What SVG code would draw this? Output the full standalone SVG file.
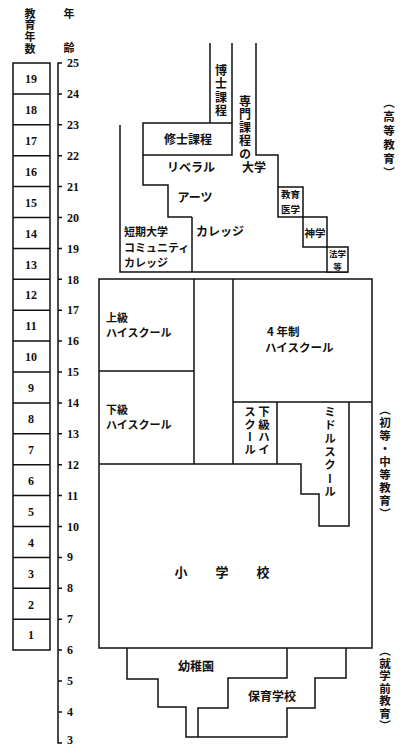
<svg xmlns="http://www.w3.org/2000/svg" width="404" height="747" viewBox="0 0 404 747">
<style>
.ln{fill:none;stroke:#111;stroke-width:1.5}
.bx{fill:#fff;stroke:#111;stroke-width:1.5}
.jp{font-family:"Noto Sans CJK JP","Noto Sans CJK SC",sans-serif;font-weight:bold;fill:#111}
.num{font-family:"Liberation Serif",serif;font-weight:bold;font-size:12px;fill:#111}
.v{writing-mode:vertical-rl}
</style>
<rect width="404" height="747" fill="#fff"/>
<g id="headers">
<text class="jp v" x="30" y="8" font-size="11" letter-spacing="0.8">教育年数</text>
<text class="jp" x="69" y="18" font-size="11" text-anchor="middle">年</text>
<text class="jp" x="69" y="52" font-size="11" text-anchor="middle">齢</text>
</g>
<g id="education-years">
<rect class="bx" x="13" y="63" width="37" height="587"/>
<path class="ln" d="M13,93.9H50M13,124.8H50M13,155.7H50M13,186.6H50M13,217.5H50M13,248.4H50M13,279.3H50M13,310.2H50M13,341.1H50M13,372H50M13,402.9H50M13,433.8H50M13,464.7H50M13,495.6H50M13,526.5H50M13,557.4H50M13,588.3H50M13,619.2H50"/>
<g class="num" text-anchor="middle">
<text x="31" y="83">19</text><text x="31" y="114">18</text><text x="31" y="145">17</text><text x="31" y="176">16</text><text x="31" y="207">15</text><text x="31" y="238">14</text><text x="31" y="269">13</text><text x="31" y="299">12</text><text x="31" y="330">11</text><text x="31" y="361">10</text><text x="31" y="392">9</text><text x="31" y="423">8</text><text x="31" y="454">7</text><text x="31" y="485">6</text><text x="31" y="516">5</text><text x="31" y="547">4</text><text x="31" y="578">3</text><text x="31" y="609">2</text><text x="31" y="639">1</text>
</g>
</g>
<g id="age-axis">
<path class="ln" d="M62,63H58V743H62M58,93.9H62M58,124.8H62M58,155.7H62M58,186.6H62M58,217.5H62M58,248.4H62M58,279.3H62M58,310.2H62M58,341.1H62M58,372H62M58,402.9H62M58,433.8H62M58,464.7H62M58,495.6H62M58,526.5H62M58,557.4H62M58,588.3H62M58,619.2H62M58,650.1H62M58,681H62M58,711.9H62"/>
<g class="num">
<text x="67" y="67">25</text><text x="67" y="98">24</text><text x="67" y="129">23</text><text x="67" y="160">22</text><text x="67" y="191">21</text><text x="67" y="222">20</text><text x="67" y="253">19</text><text x="67" y="284">18</text><text x="67" y="314">17</text><text x="67" y="345">16</text><text x="67" y="376">15</text><text x="67" y="407">14</text><text x="67" y="438">13</text><text x="67" y="469">12</text><text x="67" y="500">11</text><text x="67" y="531">10</text><text x="67" y="561">9</text><text x="67" y="592">8</text><text x="67" y="623">7</text><text x="67" y="654">6</text><text x="67" y="685">5</text><text x="67" y="716">4</text><text x="67" y="744">3</text>
</g>
</g>
<g id="connectors">
<path class="ln" d="M120,125V272H348M192,217V272M143,155V185H168V217H192M210,43V123M232,43V123M256,43V155H278V187"/>
<path class="ln" d="M99,279H372V648H99ZM194,279V464M233,279V464M99,371H194M233,402H372M277,402V464M99,464H301V494H319V526H349V402"/>
<path class="ln" d="M127,648V679H158V707H186V737H287V708H315V678H346V648M287,648V678H228V708H198V737"/>
</g>
<g id="doctor"><text class="jp v" x="221" y="64" font-size="12" letter-spacing="1.5">博士課程</text></g>
<g id="master"><rect class="bx" x="143" y="123" width="89" height="32"/><text class="jp" x="188" y="144" font-size="12" text-anchor="middle">修士課程</text></g>
<g id="professional"><text class="jp v" x="245" y="95" font-size="12" letter-spacing="1.3">専門課程の</text><text class="jp" x="254" y="172" font-size="12" text-anchor="middle">大学</text></g>
<g id="liberal-arts">
<text class="jp" x="191" y="172" font-size="12" text-anchor="middle">リベラル</text>
<text class="jp" x="195" y="202" font-size="12" text-anchor="middle">アーツ</text>
<text class="jp" x="220" y="236" font-size="12" text-anchor="middle">カレッジ</text>
</g>
<g id="junior-college">
<text class="jp" font-size="11"><tspan x="124" y="236">短期大学</tspan><tspan x="124" y="251.5">コミュニティ</tspan><tspan x="124" y="267">カレッジ</tspan></text>
</g>
<g id="education-medicine"><rect class="bx" x="278" y="187" width="25" height="30"/><text class="jp" font-size="9.5" text-anchor="middle"><tspan x="290.5" y="198">教育</tspan><tspan x="290.5" y="212.5">医学</tspan></text></g>
<g id="theology"><rect class="bx" x="303" y="217" width="24" height="30"/><text class="jp" x="315" y="237" font-size="10.5" text-anchor="middle">神学</text></g>
<g id="law"><rect class="bx" x="327" y="247" width="21" height="25"/><text class="jp" font-size="8.5" text-anchor="middle"><tspan x="337.5" y="257">法学</tspan><tspan x="337.5" y="269.5">等</tspan></text></g>
<g id="senior-high"><text class="jp" font-size="11"><tspan x="106" y="322">上級</tspan><tspan x="106" y="337">ハイスクール</tspan></text></g>
<g id="junior-high"><text class="jp" font-size="11"><tspan x="106" y="414">下級</tspan><tspan x="106" y="429">ハイスクール</tspan></text></g>
<g id="four-year-high"><text class="jp" font-size="11.5"><tspan x="267" y="336">4 年制</tspan><tspan x="265" y="352">ハイスクール</tspan></text></g>
<g id="junior-high-2"><text class="jp v" x="264" y="406" font-size="11.5" letter-spacing="1">下級ハイ</text><text class="jp v" x="250" y="406" font-size="11.5" letter-spacing="1">スクール</text></g>
<g id="middle-school"><text class="jp v" x="330" y="406" font-size="11.5" letter-spacing="1.8">ミドルスクール</text></g>
<g id="elementary"><text class="jp" x="236" y="577" font-size="13" text-anchor="middle" letter-spacing="28">小学校</text></g>
<g id="kindergarten"><text class="jp" x="196" y="671" font-size="12" text-anchor="middle">幼稚園</text></g>
<g id="nursery"><text class="jp" x="272" y="701" font-size="12" text-anchor="middle">保育学校</text></g>
<g id="labels">
<text class="jp v" x="389" y="97" font-size="11.5" letter-spacing="2.5">（高等教育）</text>
<text class="jp v" x="385" y="404" font-size="11.5" letter-spacing="1.5">（初等・中等教育）</text>
<text class="jp v" x="385" y="645" font-size="11.5" letter-spacing="1">（就学前教育）</text>
</g>
</svg>
